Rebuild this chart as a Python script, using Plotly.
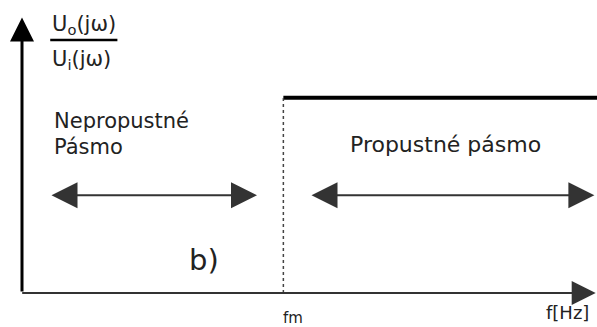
import plotly.graph_objects as go

# --- data (schematic of an ideal high-pass filter response) ---
f_max = 2.2            # end of frequency axis (relative units)
fm = 1.0               # cutoff frequency
gain_level = 1.0       # pass-band gain
y_max = 1.5
pass_x = [fm, f_max]
pass_y = [gain_level, gain_level]
cut_x = [fm, fm]
cut_y = [0, gain_level]
band_arrow_y = 0.5
stop_band = [0.107, 0.899]
pass_band = [1.102, 2.19]
frac_line_x = [0.108, 0.365]
frac_line_y = [1.295, 1.295]
y_axis_top = 1.41
x_axis_end = 2.195

FONT = "DejaVu Sans"
TXT = "#222222"

fig = go.Figure()
fig.add_trace(go.Scatter(x=pass_x, y=pass_y, mode="lines",
                         line=dict(color="black", width=4), hoverinfo="skip"))
fig.add_trace(go.Scatter(x=cut_x, y=cut_y, mode="lines",
                         line=dict(color="#444444", width=1.5, dash="dot"), hoverinfo="skip"))
fig.add_trace(go.Scatter(x=frac_line_x, y=frac_line_y, mode="lines",
                         line=dict(color="black", width=2.5), hoverinfo="skip", cliponaxis=False))

ann = []
# axes as arrows
ann.append(dict(x=0, y=y_axis_top, ax=0, ay=0, xref="x", yref="y", axref="x", ayref="y",
                text="", showarrow=True, arrowhead=2, arrowwidth=3, arrowsize=1.6,
                arrowcolor="black"))
ann.append(dict(x=x_axis_end, y=0, ax=-0.005, ay=0, xref="x", yref="y", axref="x", ayref="y",
                text="", showarrow=True, arrowhead=2, arrowwidth=2, arrowsize=2.4,
                arrowcolor="#333333"))
# band arrows (double headed)
for a, b in (stop_band, pass_band):
    ann.append(dict(x=b, y=band_arrow_y, ax=a, ay=band_arrow_y, xref="x", yref="y",
                    axref="x", ayref="y", text="", showarrow=True,
                    arrowhead=2, startarrowhead=2, arrowside="end+start",
                    arrowwidth=2, arrowsize=2.6, startarrowsize=2.6, arrowcolor="#333333"))
# texts
ann.append(dict(x=0.115, y=0.881, xref="x", yref="y", text="Nepropustné",
                showarrow=False, xanchor="left", yanchor="middle",
                font=dict(family=FONT, size=21, color=TXT)))
ann.append(dict(x=0.115, y=0.748, xref="x", yref="y", text="Pásmo",
                showarrow=False, xanchor="left", yanchor="middle",
                font=dict(family=FONT, size=21, color=TXT)))
ann.append(dict(x=1.622, y=0.758, xref="x", yref="y", text="Propustné pásmo",
                showarrow=False, xanchor="center", yanchor="middle",
                font=dict(family=FONT, size=22, color=TXT)))
ann.append(dict(x=0.696, y=0.169, xref="x", yref="y", text="b)",
                showarrow=False, xanchor="center", yanchor="middle",
                font=dict(family=FONT, size=29, color=TXT)))
ann.append(dict(x=fm, y=-0.085, xref="x", yref="paper", text="fm",
                showarrow=False, xanchor="center", yanchor="middle", xshift=10,
                font=dict(family=FONT, size=15, color=TXT)))
ann.append(dict(x=2.089, y=-0.068, xref="x", yref="paper", text="f[Hz]",
                showarrow=False, xanchor="center", yanchor="middle",
                font=dict(family=FONT, size=18, color=TXT)))
ann.append(dict(x=0.108, y=1.372, xref="x", yref="y", text="U<sub>o</sub>(jω)",
                showarrow=False, xanchor="left", yanchor="middle",
                font=dict(family=FONT, size=21, color=TXT)))
ann.append(dict(x=0.108, y=1.193, xref="x", yref="y", text="U<sub>i</sub>(jω)",
                showarrow=False, xanchor="left", yanchor="middle",
                font=dict(family=FONT, size=21, color=TXT)))

fig.update_layout(
    width=597, height=327,
    margin=dict(l=22, r=0, t=0, b=34),
    paper_bgcolor="white", plot_bgcolor="white",
    showlegend=False,
    xaxis=dict(range=[0, f_max], visible=False, fixedrange=True),
    yaxis=dict(range=[0, y_max], visible=False, fixedrange=True),
    annotations=ann,
)
fig.write_html("out.html", config={"displayModeBar": False},
               post_script="document.body.style.margin='0px';")
